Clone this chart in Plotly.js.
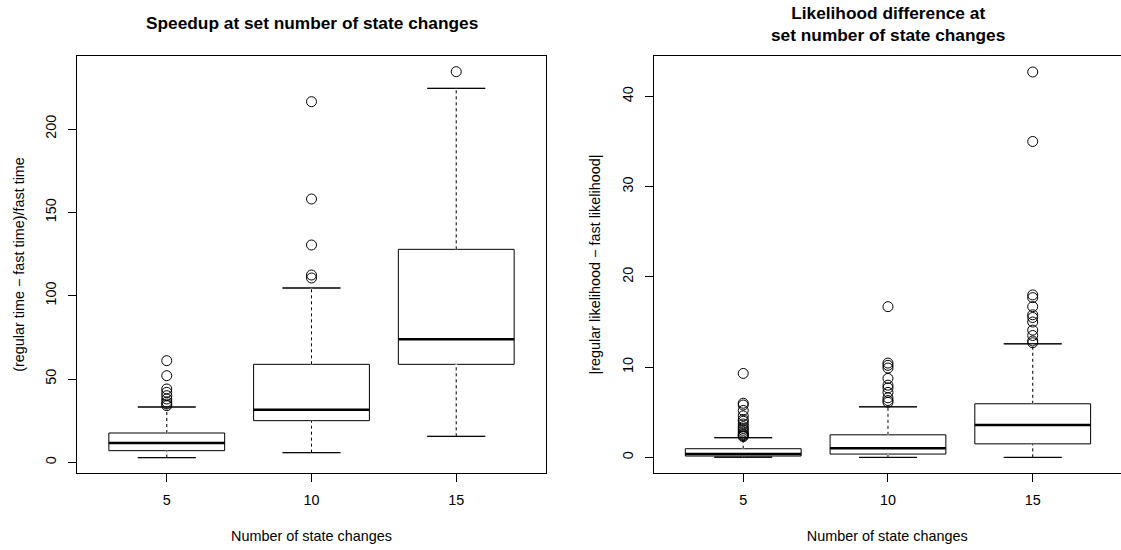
<!DOCTYPE html>
<html>
<head>
<meta charset="utf-8">
<script src="https://cdn.plot.ly/plotly-3.0.1.min.js"></script>
<style>html,body{margin:0;padding:0;background:#fff;}#chart{width:1121px;height:550px;}</style>
</head>
<body>
<div id="chart"></div>
<script>
// ---- data ----
const categories = [5, 10, 15];

// Left panel: speedup
const speedLower  = [2.8, 5.8, 15.6];
const speedQ1     = [7.0, 25.0, 58.8];
const speedMedian = [11.6, 31.6, 73.8];
const speedQ3     = [17.6, 58.8, 127.8];
const speedUpper  = [33.2, 104.6, 224.4];
const speedOut5   = [61.0, 52.0, 44.0, 42.0, 40.0, 38.0, 36.2, 35.0, 34.0];
const speedOut10  = [216.4, 158.0, 130.4, 112.4, 110.6];
const speedOut15  = [234.4];

// Right panel: likelihood difference
const likeLower  = [0.02, 0.0, 0.0];
const likeQ1     = [0.15, 0.37, 1.5];
const likeMedian = [0.37, 1.0, 3.6];
const likeQ3     = [0.96, 2.5, 5.94];
const likeUpper  = [2.18, 5.6, 12.58];
const likeOut5   = [9.3, 6.0, 5.8, 5.2, 4.6, 4.2, 4.0, 3.7, 3.4, 3.2, 3.0, 2.8, 2.6, 2.5, 2.4, 2.3];
const likeOut10  = [16.7, 10.45, 10.2, 9.9, 8.75, 8.0, 7.7, 7.2, 6.6, 6.3, 6.1];
const likeOut15  = [42.7, 35.0, 18.0, 17.7, 16.7, 15.8, 15.5, 15.0, 14.1, 13.5, 12.9, 12.7];

const xTitle = "Number of state changes";
const leftYTitle = "(regular time \u2212 fast time)/fast time";
const rightYTitle = "|regular likelihood \u2212 fast likelihood|";
const leftTitle = "Speedup at set number of state changes";
const rightTitle = "Likelihood difference at<br>set number of state changes";

// ---- build traces ----
const FONT = "Liberation Sans, Arial, Helvetica, sans-serif";
const BOXW = 0.8, CAPW = 0.4;
const positions = categories.map((c, i) => i + 1);

function panel(xa, ya, lower, q1, med, q3, upper, outs) {
  const traces = [];
  positions.forEach((p, i) => {
    traces.push({
      type: 'box', xaxis: xa, yaxis: ya, x: [p],
      q1: [q1[i]], median: [med[i]], q3: [q3[i]],
      lowerfence: [lower[i]], upperfence: [upper[i]],
      width: BOXW, whiskerwidth: 0.5, boxpoints: false,
      fillcolor: 'rgba(255,255,255,0)',
      line: {color: '#000', width: 1},
      hoverinfo: 'skip', showlegend: false
    });
    // mask the solid whiskers, then draw dashed ones
    const wx = [p, p, null, p, p];
    const wy = [q3[i], upper[i], null, lower[i], q1[i]];
    traces.push({type: 'scatter', mode: 'lines', xaxis: xa, yaxis: ya, x: wx, y: wy,
      line: {color: '#fff', width: 2}, hoverinfo: 'skip', showlegend: false});
    traces.push({type: 'scatter', mode: 'lines', xaxis: xa, yaxis: ya, x: wx, y: wy,
      line: {color: '#000', width: 1, dash: '3px,3px'}, hoverinfo: 'skip', showlegend: false});
    // caps
    traces.push({type: 'scatter', mode: 'lines', xaxis: xa, yaxis: ya,
      x: [p - CAPW / 2, p + CAPW / 2, null, p - CAPW / 2, p + CAPW / 2],
      y: [upper[i], upper[i], null, lower[i], lower[i]],
      line: {color: '#000', width: 1}, hoverinfo: 'skip', showlegend: false});
    // thick median
    traces.push({type: 'scatter', mode: 'lines', xaxis: xa, yaxis: ya,
      x: [p - BOXW / 2, p + BOXW / 2], y: [med[i], med[i]],
      line: {color: '#000', width: 2.5}, hoverinfo: 'skip', showlegend: false});
    // outliers
    traces.push({type: 'scatter', mode: 'markers', xaxis: xa, yaxis: ya,
      x: outs[i].map(() => p), y: outs[i],
      marker: {symbol: 'circle-open', size: 10, color: '#000', line: {width: 1, color: '#000'}},
      hoverinfo: 'skip', showlegend: false});
  });
  return traces;
}

const data = [].concat(
  panel('x', 'y', speedLower, speedQ1, speedMedian, speedQ3, speedUpper, [speedOut5, speedOut10, speedOut15]),
  panel('x2', 'y2', likeLower, likeQ1, likeMedian, likeQ3, likeUpper, [likeOut5, likeOut10, likeOut15])
);

const tickFont = {family: FONT, size: 14.4, color: '#000'};
function xaxis(domain, range, anchor) {
  return {
    domain: domain, range: range, anchor: anchor,
    tickmode: 'array', tickvals: positions, ticktext: categories.map(String),
    ticks: 'outside', ticklen: 8, tickcolor: '#000', tickwidth: 1,
    showline: true, linecolor: '#000', linewidth: 1, mirror: true,
    showgrid: false, zeroline: false, tickfont: tickFont, ticklabelstandoff: 6,
    title: {text: xTitle, font: {family: FONT, size: 14.4, color: '#000'}, standoff: 23}
  };
}
function yaxis(domain, range, dtick, anchor, title, mirror) {
  return {
    domain: domain, range: range, anchor: anchor,
    tick0: 0, dtick: dtick, tickangle: -90,
    ticks: 'outside', ticklen: 8, tickcolor: '#000', tickwidth: 1,
    showline: true, linecolor: '#000', linewidth: 1, mirror: mirror,
    showgrid: false, zeroline: false, tickfont: tickFont, ticklabelstandoff: 6,
    title: {text: title, font: {family: FONT, size: 14.4, color: '#000'}, standoff: 15}
  };
}

const yDom = [1 - 473 / 550, 1 - 56 / 550];
const layout = {
  width: 1121, height: 550,
  margin: {l: 0, r: 0, t: 0, b: 0},
  paper_bgcolor: '#fff', plot_bgcolor: '#fff',
  showlegend: false,
  font: {family: FONT, color: '#000'},
  xaxis: xaxis([77 / 1121, 546 / 1121], [0.38, 3.62], 'y'),
  yaxis: yaxis(yDom, [-6.4, 243.8], 50, 'x', leftYTitle, true),
  xaxis2: xaxis([653.5 / 1121, 1], [0.38, 3.61], 'y2'),
  yaxis2: yaxis(yDom, [-1.73, 44.47], 10, 'x2', rightYTitle, false),
  annotations: [
    {text: '<b>' + leftTitle + '</b>', xref: 'paper', yref: 'paper',
     x: 311.5 / 1121, y: 1 - 23 / 550, xanchor: 'center', yanchor: 'middle', showarrow: false,
     font: {family: FONT, size: 17.3, color: '#000'}},
    {text: '<b>' + rightTitle + '</b>', xref: 'paper', yref: 'paper',
     x: 887.5 / 1121, y: 1 - 23.5 / 550, xanchor: 'center', yanchor: 'middle', showarrow: false,
     font: {family: FONT, size: 17.3, color: '#000'}}
  ]
};

Plotly.newPlot('chart', data, layout, {staticPlot: true, displayModeBar: false});
</script>
</body>
</html>
